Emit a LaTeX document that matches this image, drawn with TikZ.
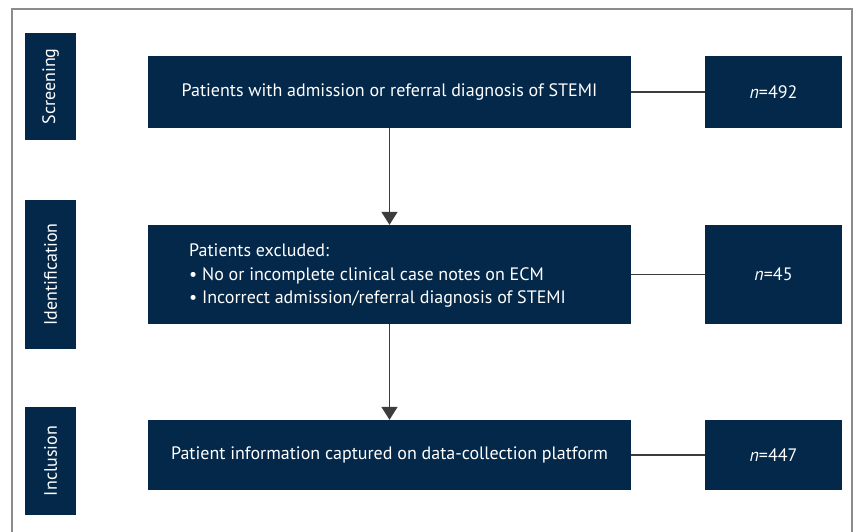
\documentclass[tikz,border=0pt]{standalone}
\usepackage{fontspec}
\setmainfont{PT Sans}
\usetikzlibrary{arrows.meta}
\definecolor{navy}{RGB}{4,40,74}
\definecolor{linegray}{RGB}{60,60,60}
\definecolor{framegray}{RGB}{140,140,140}
\begin{document}
\begin{tikzpicture}[x=1pt, y=-1pt]
        % Common styles
        \tikzstyle{block}=[fill=navy, text=white, inner sep=0pt, font=\fontsize{18}{22}\selectfont]
        \tikzstyle{stage}=[block, minimum height=51pt, rotate=90]
        \tikzstyle{link}=[line width=1.7pt, linegray]
        \tikzstyle{flow}=[link, -{Triangle[width=16pt, length=13pt]}]

        \useasboundingbox (0,0) rectangle (857,532);
        \draw[framegray, line width=1.6pt] (12,540) -- (12,9) -- (852,9) -- (852,540);

        % --- Stage labels ---
        \node[stage, minimum width=107pt] (screen) at (50.5, 86.5) {Screening};
        \node[stage, minimum width=149pt] (ident) at (50.5, 274.5) {Identification};
        \node[stage, minimum width=108pt] (incl) at (50.5, 461) {Inclusion};

        % --- Main boxes ---
        \node[block, minimum width=483pt, minimum height=72pt] (admit) at (389.5, 92)
            {Patients with admission or referral diagnosis of STEMI};
        \node[block, minimum width=483pt, minimum height=99pt] (excl) at (389.5, 274.5) {};
        \node[anchor=west, text=white, align=left, inner sep=0pt,
              font=\fontsize{18}{23.5}\selectfont] (excltext) at (189, 276)
            {Patients excluded:\\
             \textbullet\ No or incomplete clinical case notes on ECM\\
             \textbullet\ Incorrect admission/referral diagnosis of STEMI};
        \node[block, minimum width=483pt, minimum height=70pt] (capt) at (389.5, 455)
            {Patient information captured on data-collection platform};

        % --- Counts ---
        \node[block, minimum width=137pt, minimum height=72pt] (n1) at (773.5, 92) {\textit{n}=492};
        \node[block, minimum width=137pt, minimum height=99pt] (n2) at (773.5, 274.5) {\textit{n}=45};
        \node[block, minimum width=137pt, minimum height=70pt] (n3) at (773.5, 455) {\textit{n}=447};

        % Connectors
        \draw[link] (admit.east) -- (n1.west);
        \draw[link] (excl.east) -- (n2.west);
        \draw[link] (capt.east) -- (n3.west);
        \draw[flow] (admit.south) -- (excl.north);
        \draw[flow] (excl.south) -- (capt.north);

    \end{tikzpicture}
\end{document}
